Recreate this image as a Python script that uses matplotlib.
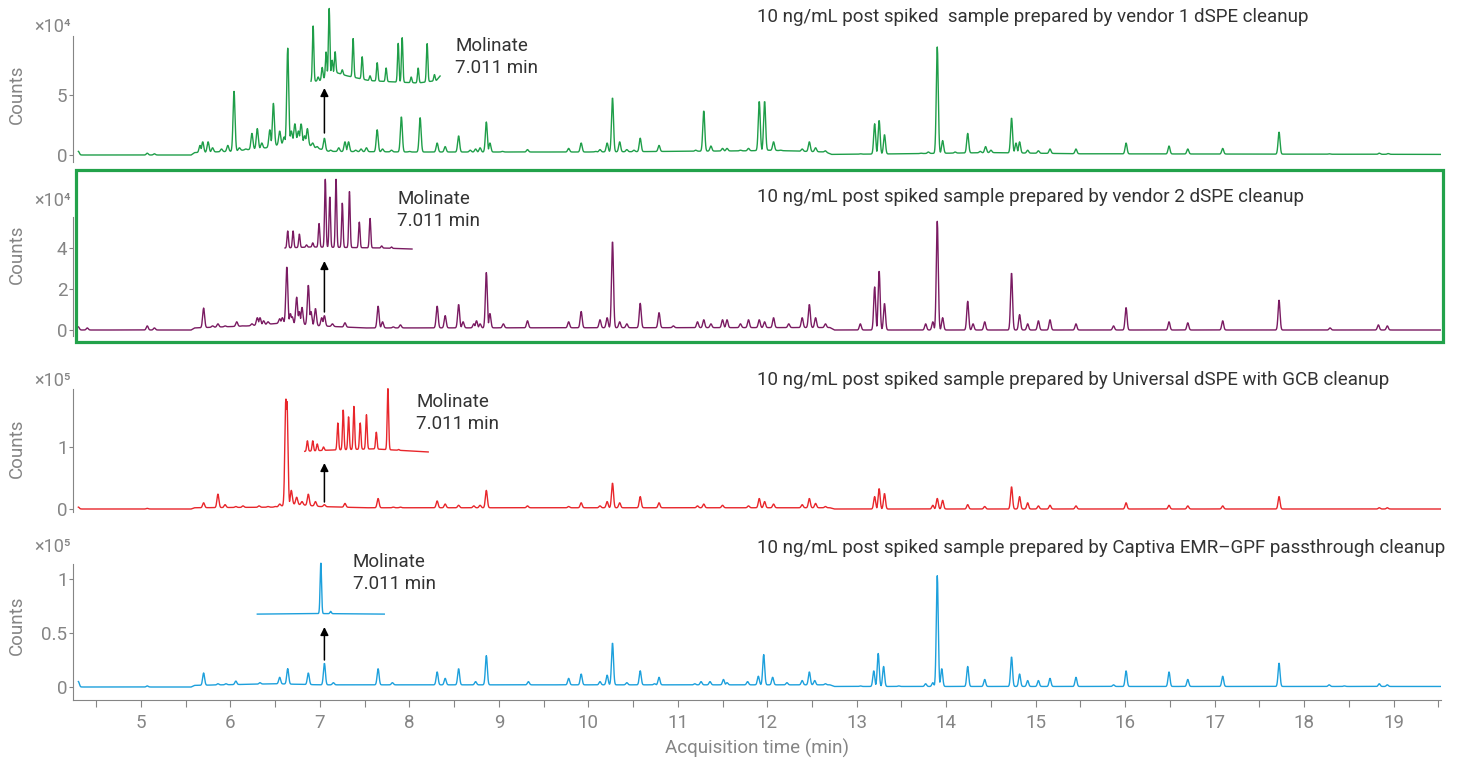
import numpy as np
import matplotlib
matplotlib.use("Agg")
import matplotlib.pyplot as plt
from matplotlib.patches import Rectangle
from matplotlib.ticker import MultipleLocator, FuncFormatter

plt.rcParams['font.family'] = ['Roboto', 'DejaVu Sans']

W, H = 1460, 759

# ---------------- data ----------------
titles = [
    "10 ng/mL post spiked  sample prepared by vendor 1 dSPE cleanup",
    "10 ng/mL post spiked sample prepared by vendor 2 dSPE cleanup",
    "10 ng/mL post spiked sample prepared by Universal dSPE with GCB cleanup",
    "10 ng/mL post spiked sample prepared by Captiva EMR\u2013GPF passthrough cleanup",
]
colors = ['#1f9e49', '#7a1b62', '#e8262b', '#1da0dc']
multipliers = ['\u00d710\u2074', '\u00d710\u2074', '\u00d710\u2075', '\u00d710\u2075']
ytick_vals = [[0, 5], [0, 2, 4], [0, 1], [0, 0.5, 1]]
ytick_text = [['0', '5'], ['0', '2', '4'], ['0', '1'], ['0', '0.5', '1']]
molinate_label = "Molinate\n7.011 min"
molinate_rt = 7.05

# vendor 1 dSPE (x1e4)
v1_base_t = [4.30, 5.56, 5.60, 6.00, 6.40, 6.62, 6.75, 6.95, 7.10, 8.0, 10.0, 11.8, 12.0, 12.65, 12.72, 13.5, 14.5, 15.5, 19.53]
v1_base_h = [0, 0, 0.2, 0.3, 0.6, 1.0, 1.2, 0.6, 0.3, 0.25, 0.25, 0.35, 0.4, 0.25, 0.05, 0.1, 0.2, 0.1, 0.05]
v1_peak_t = [4.30, 5.07, 5.15, 5.66, 5.69, 5.75, 5.80, 5.90, 5.97, 6.04, 6.10, 6.17,
             6.24, 6.30, 6.35, 6.44, 6.48, 6.55, 6.60, 6.64, 6.68, 6.72, 6.76, 6.79, 6.83, 6.86,
             6.92, 6.97, 7.05, 7.12, 7.21, 7.28, 7.32, 7.40, 7.46, 7.52, 7.64, 7.70, 7.80, 7.91,
             8.00, 8.12, 8.31, 8.40, 8.55, 8.68, 8.74, 8.79, 8.86, 8.90,
             9.04, 9.32, 9.55, 9.70, 9.78, 9.92, 10.08, 10.13, 10.21, 10.27, 10.35, 10.43, 10.51,
             10.58, 10.79, 10.95, 11.05, 11.20, 11.29, 11.37, 11.50, 11.55, 11.62, 11.70, 11.79,
             11.91, 11.97, 12.07, 12.15, 12.24, 12.39, 12.47, 12.54, 12.65,
             13.04, 13.20, 13.25, 13.31, 13.47, 13.72, 13.80, 13.90, 13.96, 14.10, 14.24, 14.38,
             14.44, 14.50, 14.73, 14.78, 14.82, 14.91, 15.03, 15.16, 15.45, 15.52, 15.87, 16.01,
             16.49, 16.70, 17.09, 17.72, 18.28, 18.84, 18.94]
v1_peak_h = [0.3, 0.15, 0.1, 0.8, 1.1, 1.1, 0.6, 0.5, 0.8, 5.3, 0.6, 0.5,
             1.8, 2.2, 1.0, 2.1, 4.3, 2.0, 1.5, 8.9, 2.0, 2.6, 2.0, 2.6, 1.6, 2.2,
             1.0, 0.7, 1.4, 0.4, 0.6, 1.1, 1.1, 0.4, 0.5, 0.6, 2.1, 0.5, 0.4, 3.2,
             0.3, 3.1, 1.0, 0.7, 1.6, 0.4, 0.5, 0.6, 2.75, 1.0,
             0.3, 0.45, 0.2, 0.25, 0.55, 1.0, 0.3, 0.45, 1.0, 4.8, 1.1, 0.45, 0.4,
             1.4, 0.8, 0.2, 0.2, 0.4, 3.7, 0.75, 0.55, 0.55, 0.3, 0.4, 0.55,
             4.5, 4.5, 1.1, 0.4, 0.35, 0.5, 1.1, 0.6, 0.35,
             0.1, 2.6, 2.9, 1.7, 0.1, 0.15, 0.25, 9.0, 1.2, 0.25, 1.8, 0.3,
             0.7, 0.4, 3.1, 1.0, 1.1, 0.4, 0.35, 0.5, 0.5, 0.1, 0.1, 1.0,
             0.75, 0.5, 0.55, 1.9, 0.1, 0.15, 0.12]
v1_inset_base_t = [6.90, 7.00, 7.17, 7.30, 7.55, 7.80, 8.10, 8.30, 8.345]
v1_inset_base_h = [6.1, 6.2, 6.9, 6.6, 6.2, 6.1, 6.0, 6.2, 6.6]
v1_inset_t = [6.924, 6.98, 7.025, 7.069, 7.103, 7.136, 7.170, 7.25, 7.371, 7.472, 7.56,
              7.640, 7.740, 7.875, 7.919, 8.02, 8.098, 8.198, 8.28]
v1_inset_h = [10.75, 6.5, 7.3, 8.6, 12.25, 7.9, 8.6, 7.1, 9.7, 8.2, 6.6,
              7.7, 7.25, 9.3, 9.8, 6.5, 7.25, 9.3, 6.7]

# vendor 2 dSPE (x1e4)
v2_base_t = [4.30, 5.56, 5.60, 6.20, 6.60, 7.00, 7.50, 12.70, 12.75, 19.53]
v2_base_h = [0, 0, 0.1, 0.2, 0.35, 0.2, 0.1, 0.12, 0.0, 0.0]
v2_peak_t = [4.30, 4.40, 5.07, 5.15, 5.70, 5.80, 5.86, 5.94, 6.07, 6.13, 6.24, 6.30, 6.33,
             6.37, 6.42, 6.50, 6.55, 6.58, 6.63, 6.67, 6.69, 6.74, 6.77, 6.80, 6.87, 6.90,
             6.95, 7.02, 7.05, 7.14, 7.28, 7.65, 7.70, 7.82, 7.90, 8.06, 8.31, 8.40, 8.55,
             8.60, 8.72, 8.75, 8.79, 8.86, 8.90,
             9.05, 9.32, 9.78, 9.92, 10.13, 10.21, 10.27, 10.35, 10.43, 10.58, 10.79, 10.95,
             11.22, 11.29, 11.37, 11.50, 11.55, 11.70, 11.79, 11.91, 11.97, 12.07, 12.24,
             12.39, 12.47, 12.54, 12.65, 13.04, 13.20, 13.25, 13.31, 13.77, 13.85, 13.90,
             13.96, 14.24, 14.30, 14.43, 14.73, 14.82, 14.91, 15.03, 15.16, 15.45, 15.87,
             16.01, 16.49, 16.70, 17.09, 17.72, 18.29, 18.83, 18.93]
v2_peak_h = [0.15, 0.1, 0.2, 0.1, 1.07, 0.2, 0.3, 0.2, 0.4, 0.2, 0.3, 0.6, 0.6,
             0.45, 0.4, 0.3, 0.55, 0.6, 3.1, 0.8, 0.65, 1.6, 0.9, 1.1, 2.2, 0.9,
             1.05, 0.6, 0.7, 0.3, 0.35, 1.17, 0.4, 0.15, 0.25, 0.1, 1.17, 0.7, 1.25,
             0.4, 0.3, 0.45, 0.3, 2.8, 0.8,
             0.3, 0.45, 0.4, 0.9, 0.5, 0.6, 4.35, 0.4, 0.3, 1.3, 0.85, 0.2,
             0.4, 0.5, 0.3, 0.5, 0.5, 0.3, 0.5, 0.5, 0.4, 0.6, 0.3,
             0.6, 1.25, 0.6, 0.3, 0.3, 2.1, 2.9, 1.3, 0.3, 0.4, 5.3,
             0.6, 1.4, 0.3, 0.4, 2.8, 0.75, 0.3, 0.45, 0.5, 0.3, 0.2,
             1.1, 0.4, 0.35, 0.45, 1.45, 0.1, 0.25, 0.2]
v2_inset_base_t = [6.61, 6.90, 7.70, 8.03]
v2_inset_base_h = [4.0, 4.05, 4.0, 3.95]
v2_inset_t = [6.64, 6.70, 6.77, 6.85, 6.92, 6.99, 7.06, 7.11, 7.18, 7.25, 7.33, 7.44, 7.56, 7.69, 7.80]
v2_inset_h = [4.83, 4.83, 4.68, 4.15, 4.25, 5.2, 7.35, 6.5, 7.35, 6.2, 6.75, 5.27, 5.45, 4.1, 4.05]

# Universal dSPE with GCB (x1e5)
u_base_t = [4.30, 5.56, 5.60, 6.50, 6.70, 7.00, 7.50, 12.70, 12.75, 19.53]
u_base_h = [0, 0, 0.02, 0.03, 0.08, 0.04, 0.02, 0.02, 0.0, 0.0]
u_peak_t = [4.30, 5.07, 5.70, 5.86, 5.94, 6.06, 6.14, 6.32, 6.42, 6.50, 6.55, 6.619, 6.631,
            6.68, 6.74, 6.80, 6.87, 6.95, 7.05, 7.14, 7.28, 7.65, 7.82, 7.90, 8.31, 8.40,
            8.55, 8.72, 8.79, 8.86, 9.32, 9.78, 9.92, 10.13, 10.21, 10.27, 10.35, 10.58,
            10.79, 11.22, 11.29, 11.50, 11.79, 11.91, 11.97, 12.07, 12.39, 12.47, 12.54,
            12.65, 13.20, 13.25, 13.31, 13.85, 13.90, 13.96, 14.24, 14.43, 14.73, 14.82,
            14.91, 15.03, 15.16, 15.45, 16.01, 16.49, 16.70, 17.09, 17.72, 18.84, 18.93]
u_peak_h = [0.03, 0.01, 0.1, 0.24, 0.07, 0.04, 0.05, 0.05, 0.04, 0.04, 0.08, 1.78, 1.74,
            0.3, 0.19, 0.12, 0.24, 0.12, 0.07, 0.03, 0.09, 0.17, 0.03, 0.03, 0.13, 0.08,
            0.06, 0.05, 0.06, 0.3, 0.05, 0.04, 0.1, 0.05, 0.12, 0.42, 0.1, 0.2,
            0.1, 0.05, 0.08, 0.06, 0.05, 0.17, 0.12, 0.08, 0.07, 0.17, 0.09,
            0.04, 0.2, 0.33, 0.25, 0.06, 0.17, 0.14, 0.07, 0.04, 0.36, 0.2,
            0.1, 0.05, 0.06, 0.05, 0.1, 0.06, 0.05, 0.05, 0.2, 0.02, 0.02]
u_inset_base_t = [6.83, 7.10, 7.60, 8.21]
u_inset_base_h = [0.93, 0.95, 0.97, 0.92]
u_inset_t = [6.86, 6.92, 6.97, 7.04, 7.20, 7.26, 7.32, 7.38, 7.45, 7.52, 7.63, 7.76, 7.88]
u_inset_h = [1.10, 1.10, 1.05, 1.00, 1.39, 1.60, 1.49, 1.66, 1.39, 1.52, 1.24, 1.94, 0.96]

# Captiva EMR-GPF (x1e5)
c_base_t = [4.30, 5.56, 5.60, 6.50, 7.00, 12.70, 12.75, 19.53]
c_base_h = [0, 0, 0.015, 0.03, 0.02, 0.02, 0.005, 0.005]
c_peak_t = [4.30, 5.07, 5.70, 5.86, 5.95, 6.06, 6.33, 6.55, 6.64, 6.87, 7.05, 7.15, 7.65,
            7.81, 7.90, 8.31, 8.40, 8.55, 8.74, 8.86, 9.33, 9.78, 9.92, 10.13, 10.21, 10.27,
            10.43, 10.58, 10.74, 10.79, 11.19, 11.26, 11.36, 11.51, 11.55, 11.70, 11.78,
            11.90, 11.96, 12.06, 12.22, 12.39, 12.47, 12.53, 12.65, 13.04, 13.19, 13.24,
            13.30, 13.47, 13.77, 13.85, 13.90, 13.95, 14.24, 14.43, 14.73, 14.82, 14.91,
            15.03, 15.16, 15.45, 15.87, 16.01, 16.49, 16.70, 17.09, 17.72, 18.28, 18.45,
            18.84, 18.93]
c_peak_h = [0.05, 0.01, 0.13, 0.03, 0.03, 0.055, 0.04, 0.09, 0.17, 0.13, 0.22, 0.04, 0.17,
            0.04, 0.02, 0.14, 0.08, 0.17, 0.05, 0.29, 0.05, 0.08, 0.12, 0.05, 0.11, 0.41,
            0.04, 0.15, 0.03, 0.09, 0.03, 0.05, 0.05, 0.07, 0.04, 0.02, 0.05,
            0.10, 0.30, 0.09, 0.04, 0.06, 0.14, 0.06, 0.03, 0.01, 0.15, 0.31,
            0.19, 0.01, 0.03, 0.04, 1.03, 0.17, 0.19, 0.07, 0.28, 0.12, 0.06,
            0.06, 0.08, 0.09, 0.02, 0.15, 0.14, 0.07, 0.10, 0.22, 0.02, 0.01,
            0.03, 0.02]
c_inset_base_t = [6.30, 7.00, 7.72]
c_inset_base_h = [0.675, 0.68, 0.675]
c_inset_t = [7.01, 7.12]
c_inset_h = [1.15, 0.70]

panels = [
    (v1_base_t, v1_base_h, v1_peak_t, v1_peak_h, v1_inset_base_t, v1_inset_base_h, v1_inset_t, v1_inset_h),
    (v2_base_t, v2_base_h, v2_peak_t, v2_peak_h, v2_inset_base_t, v2_inset_base_h, v2_inset_t, v2_inset_h),
    (u_base_t, u_base_h, u_peak_t, u_peak_h, u_inset_base_t, u_inset_base_h, u_inset_t, u_inset_h),
    (c_base_t, c_base_h, c_peak_t, c_peak_h, c_inset_base_t, c_inset_base_h, c_inset_t, c_inset_h),
]

# ---------------- layout (pixels) ----------------
# top, bottom, zero line, pixels per unit, spine top
layout = [(5, 162, 155, 12.0, 36), (172, 336, 330, 20.5, 217),
          (385, 512, 509, 62.0, 389), (550, 700, 687, 108.0, 564)]
arrow_px = [(133, 88), (312, 261), (502, 463), (660, 627)]
label_px = [(455, 57), (397, 210), (416, 413), (353, 573)]
title_y = [17, 197, 380, 548]
mult_y = [27, 201, 381, 547]
ax_left, ax_right = 73, 1441
x_min, x_max = 4.24, 19.53
GRAY = '#858585'
FS = 13.5


def chrom(t, base_t, base_h, pk_t, pk_h, sigma):
    # baseline plus the tallest peak profile at each time (peaks do not stack)
    base = np.interp(t, base_t, base_h)
    top = np.zeros_like(t)
    for pt, ph in zip(pk_t, pk_h):
        amp = ph - np.interp(pt, base_t, base_h)
        top = np.maximum(top, amp * np.exp(-0.5 * ((t - pt) / sigma) ** 2))
    return base + top


fig = plt.figure(figsize=(W / 100, H / 100), dpi=100)
axw = ax_right - ax_left

for i, (bt, bh, pt, ph, ibt, ibh, it, ih) in enumerate(panels):
    top, bot, zero, ppu, stop = layout[i]
    ax = fig.add_axes([ax_left / W, 1 - bot / H, axw / W, (bot - top) / H])
    ax.set_xlim(x_min, x_max)
    ax.set_ylim(-(bot - zero) / ppu, (zero - top) / ppu)
    ax.patch.set_alpha(0)

    t = np.arange(4.30, 19.525, 0.004)
    ax.plot(t, chrom(t, bt, bh, pt, ph, 0.011), color=colors[i], lw=1.0)
    ti = np.arange(ibt[0], ibt[-1], 0.003)
    ax.plot(ti, chrom(ti, ibt, ibh, it, ih, 0.008), color=colors[i], lw=1.0)

    tail, head = arrow_px[i]
    ax.annotate('', xy=(molinate_rt, (zero - head) / ppu), xytext=(molinate_rt, (zero - tail) / ppu),
                arrowprops=dict(arrowstyle='-|>', color='black', lw=1.1, mutation_scale=12,
                                shrinkA=0, shrinkB=0))

    lx, ly = label_px[i]
    fig.text(lx / W, 1 - ly / H, molinate_label, ha='left', va='center', fontsize=FS,
             color='#333333', linespacing=1.35)
    fig.text(757 / W, 1 - title_y[i] / H, titles[i], ha='left', va='center', fontsize=FS,
             color='#333333')
    fig.text(71 / W, 1 - mult_y[i] / H, multipliers[i], ha='right', va='center',
             fontsize=FS - 0.5, color=GRAY)

    for s in ['top', 'right']:
        ax.spines[s].set_visible(False)
    ax.spines['left'].set_color(GRAY)
    ax.spines['left'].set_bounds(ax.get_ylim()[0], (zero - stop) / ppu)
    ax.set_yticks(ytick_vals[i])
    ax.set_yticklabels(ytick_text[i])
    ax.tick_params(axis='y', colors=GRAY, labelsize=FS, length=3, pad=1)
    ax.set_ylabel('Counts', color=GRAY, fontsize=FS)
    ax.yaxis.set_label_coords(-(ax_left - 26) / axw, 0.5 if i != 0 else 0.43)

    if i < 3:
        ax.spines['bottom'].set_visible(False)
        ax.set_xticks([])
    else:
        ax.spines['bottom'].set_color(GRAY)
        ax.xaxis.set_major_locator(MultipleLocator(0.5))
        ax.xaxis.set_major_formatter(FuncFormatter(
            lambda v, p: '%d' % round(v) if abs(v - round(v)) < 1e-6 else ''))
        ax.tick_params(axis='x', colors=GRAY, labelsize=FS, length=5, pad=5)
        ax.set_xlabel('Acquisition time (min)', color=GRAY, fontsize=FS, va='center')
        ax.xaxis.set_label_coords(0.5, -(748 - bot) / (bot - top))

# green box around the vendor 2 panel
fig.patches.append(Rectangle((76 / W, 1 - 342 / H), (1443 - 76) / W, (342 - 170) / H,
                             transform=fig.transFigure, fill=False, edgecolor='#22a24a', lw=2.3))

fig.savefig('out.png', dpi=100)
